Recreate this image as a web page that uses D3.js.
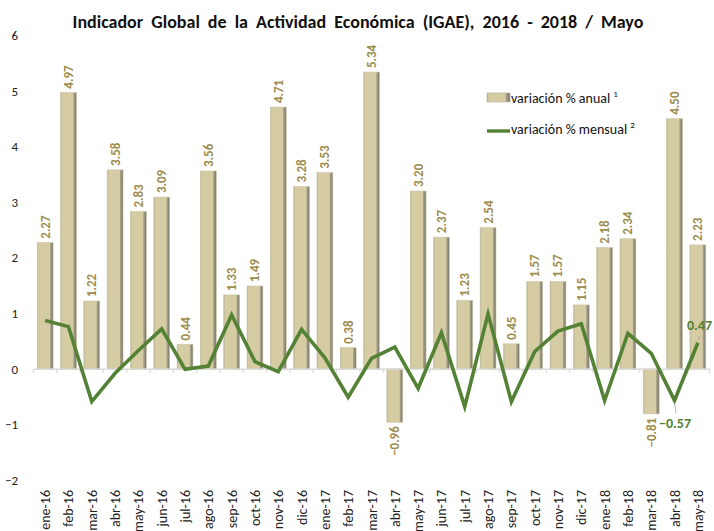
<!DOCTYPE html>
<html>
<head>
<meta charset="utf-8">
<script src="https://cdn.jsdelivr.net/npm/d3@7"></script>
<style>
  body { margin: 0; background: #fff; }
  svg { font-family: Carlito, Lato, "Noto Sans", sans-serif; }
</style>
</head>
<body>
<svg id="chart"></svg>
<script>
const months = [
  "ene-16", "feb-16", "mar-16", "abr-16", "may-16", "jun-16", "jul-16", "ago-16",
  "sep-16", "oct-16", "nov-16", "dic-16", "ene-17", "feb-17", "mar-17", "abr-17",
  "may-17", "jun-17", "jul-17", "ago-17", "sep-17", "oct-17", "nov-17", "dic-17",
  "ene-18", "feb-18", "mar-18", "abr-18", "may-18"
];
const anual = [
  2.27, 4.97, 1.22, 3.58, 2.83, 3.09, 0.44, 3.56, 1.33, 1.49, 4.71, 3.28, 3.53, 0.38,
  5.34, -0.96, 3.2, 2.37, 1.23, 2.54, 0.45, 1.57, 1.57, 1.15, 2.18, 2.34, -0.81, 4.5, 2.23
];
const mensual = [
  0.87, 0.76, -0.59, -0.08, 0.33, 0.72, -0.01, 0.05, 0.97, 0.13, -0.05, 0.71, 0.2, -0.51,
  0.19, 0.39, -0.35, 0.65, -0.68, 0.99, -0.59, 0.31, 0.68, 0.81, -0.57, 0.64, 0.28, -0.57, 0.47
];
const yTicks = [-2, -1, 0, 1, 2, 3, 4, 5, 6];

const w = 714;
const h = 531;
const svg = d3.select("#chart").attr("width", w).attr("height", h);

const xScale = d3.scaleBand().domain(months).range([33.5, 709.5]).paddingInner(0.32).paddingOuter(0.16);
const yScale = d3.scaleLinear().domain([-2, 6]).range([480, 35.4]);

// gradient for the bars
const defs = svg.append("defs");
const grad = defs.append("linearGradient").attr("id", "barGrad").attr("x1", 0).attr("x2", 1).attr("y1", 0).attr("y2", 0);
[
  ["0%", "#b9b192"], ["10%", "#d5cca3"], ["78%", "#d5cca3"], ["84%", "#a5a189"], ["100%", "#76746a"]
].forEach(([o, c]) => grad.append("stop").attr("offset", o).attr("stop-color", c));

svg.append("text")
  .attr("x", 358)
  .attr("y", 28)
  .attr("text-anchor", "middle")
  .style("font-size", "18px")
  .style("font-weight", "bold")
  .style("word-spacing", "4px")
  .style("fill", "#111")
  .text("Indicador Global de la Actividad Económica (IGAE), 2016 - 2018 / Mayo");

// y axis (labels only)
const yAxis = d3.axisLeft(yScale).tickValues(yTicks).tickSize(0).tickPadding(0).tickFormat(d3.format("d"));
const yG = svg.append("g").attr("transform", "translate(18,0)").call(yAxis);
yG.select(".domain").remove();
yG.selectAll("text").style("font-size", "13px").style("fill", "#222").style("font-family", "Carlito, Lato, sans-serif");

// bars
svg.append("g")
  .selectAll("rect")
  .data(anual)
  .enter()
  .append("rect")
  .attr("x", (d, i) => xScale(months[i]))
  .attr("y", (d) => yScale(Math.max(0, d)))
  .attr("width", xScale.bandwidth())
  .attr("height", (d) => Math.abs(yScale(d) - yScale(0)))
  .style("fill", "url(#barGrad)")
  .style("stroke", "#c9c2a2")
  .style("stroke-width", 0.6);

// x axis
const xAxis = d3.axisBottom(xScale).tickSize(0).tickPadding(0);
const xG = svg.append("g").attr("transform", "translate(0," + yScale(0) + ")").call(xAxis);
xG.select(".domain").style("stroke", "#d9d9d9").style("stroke-width", 1.5);
xG.selectAll(".tick text").remove();
xG.selectAll(".tick line").remove();
const step = xScale.step();
xG.selectAll(".sep")
  .data(d3.range(months.length + 1))
  .enter()
  .append("line")
  .attr("x1", (i) => 33.5 + i * step)
  .attr("x2", (i) => 33.5 + i * step)
  .attr("y1", 0)
  .attr("y2", 4)
  .style("stroke", "#d9d9d9")
  .style("stroke-width", 1.2);

svg.append("g")
  .selectAll("text")
  .data(months)
  .enter()
  .append("text")
  .attr("transform", (d) => "translate(" + (xScale(d) + xScale.bandwidth() / 2 + 5) + ",490) rotate(-90)")
  .attr("text-anchor", "end")
  .style("font-size", "14px")
  .style("fill", "#222")
  .text((d) => d);

// bar value labels
const fmt = d3.format(".2f");
svg.append("g")
  .selectAll("text")
  .data(anual)
  .enter()
  .append("text")
  .attr("transform", (d, i) => {
    const cx = xScale(months[i]) + xScale.bandwidth() / 2 + 4.5;
    const y = d >= 0 ? yScale(d) - 4 : yScale(d) + 4;
    return "translate(" + cx + "," + y + ") rotate(-90)";
  })
  .attr("text-anchor", (d) => (d >= 0 ? "start" : "end"))
  .style("font-size", "13px")
  .style("font-weight", "bold")
  .style("fill", "#9d8d4d")
  .text((d) => fmt(d));

// monthly line
const line = d3.line()
  .x((d, i) => xScale(months[i]) + xScale.bandwidth() / 2)
  .y((d) => yScale(d));
svg.append("path")
  .datum(mensual)
  .attr("d", line)
  .style("fill", "none")
  .style("stroke", "#548235")
  .style("stroke-width", 3.6)
  .style("stroke-linejoin", "miter");

// labels for the last two line points
const cxOf = (i) => xScale(months[i]) + xScale.bandwidth() / 2;
const iAbr = 27;
const iMay = 28;
svg.append("line")
  .attr("x1", cxOf(iAbr)).attr("y1", yScale(mensual[iAbr]) + 2)
  .attr("x2", cxOf(iAbr) + 1.5).attr("y2", yScale(mensual[iAbr]) + 13)
  .style("stroke", "#a6a6a6").style("stroke-width", 0.8);
svg.append("text")
  .attr("x", 659)
  .attr("y", 428)
  .style("font-size", "14px")
  .style("font-weight", "bold")
  .style("fill", "#548235")
  .text(fmt(mensual[iAbr]));
svg.append("line")
  .attr("x1", cxOf(iMay)).attr("y1", yScale(mensual[iMay]) - 2)
  .attr("x2", cxOf(iMay) + 2).attr("y2", yScale(mensual[iMay]) - 7)
  .style("stroke", "#a6a6a6").style("stroke-width", 0.8);
svg.append("text")
  .attr("x", 687)
  .attr("y", 330)
  .style("font-size", "14px")
  .style("font-weight", "bold")
  .style("fill", "#548235")
  .text(fmt(mensual[iMay]));

// legend
const legend = svg.append("g");
legend.append("rect")
  .attr("x", 487).attr("y", 93).attr("width", 23).attr("height", 9)
  .style("fill", "url(#barGrad)").style("stroke", "#b9b192").style("stroke-width", 0.6);
const t1 = legend.append("text").attr("x", 511).attr("y", 103).style("font-size", "14px").style("fill", "#111");
t1.append("tspan").text("variación % anual ");
t1.append("tspan").attr("dy", -6).style("font-size", "9px").text("1");
legend.append("line")
  .attr("x1", 487).attr("x2", 510).attr("y1", 131).attr("y2", 131)
  .style("stroke", "#548235").style("stroke-width", 3.4);
const t2 = legend.append("text").attr("x", 511).attr("y", 134).style("font-size", "14px").style("fill", "#111");
t2.append("tspan").text("variación % mensual ");
t2.append("tspan").attr("dy", -6).style("font-size", "9px").text("2");
</script>
</body>
</html>
